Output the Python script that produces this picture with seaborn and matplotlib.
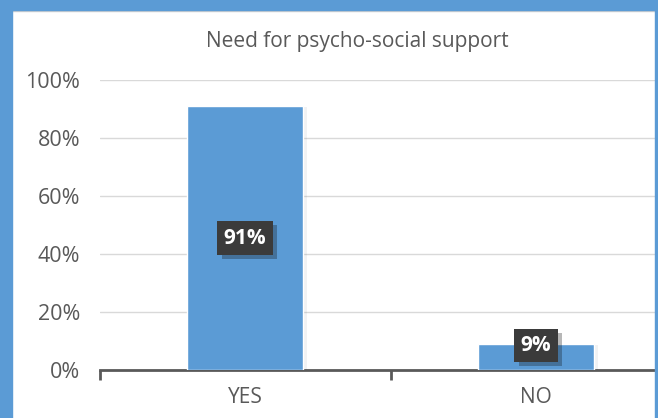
import matplotlib
matplotlib.use("Agg")
import matplotlib.pyplot as plt
import matplotlib.patheffects as pe
from matplotlib.patches import Rectangle
from matplotlib.ticker import PercentFormatter, MultipleLocator
import seaborn as sns
import pandas as pd

# data
categories = ["YES", "NO"]
shares = [0.91, 0.09]
title = "Need for psycho-social support"

BLUE = "#5B9BD5"
GREY = "#595959"

sns.set_theme(style="white")
plt.rcParams["font.family"] = ["Open Sans", "DejaVu Sans"]

df = pd.DataFrame({"answer": categories, "share": shares})

fig = plt.figure(figsize=(6.58, 4.18), dpi=100)
ax = fig.add_axes([99.5 / 658, 48 / 418, 582 / 658, 290 / 418])

sns.barplot(data=df, x="answer", y="share", color=BLUE, saturation=1,
            width=0.4, ax=ax, zorder=3)
for bar in ax.patches:
    bar.set_path_effects([pe.SimplePatchShadow(offset=(3, -1), alpha=0.06), pe.Normal()])

ax.set_xlim(-0.5, 1.5)
ax.set_ylim(0, 1)
ax.yaxis.set_major_locator(MultipleLocator(0.2))
ax.yaxis.set_major_formatter(PercentFormatter(1.0, decimals=0))
ax.grid(axis="y", color="#D9D9D9", linewidth=1, zorder=0)
ax.set_axisbelow(True)
for s in ["top", "right", "left"]:
    ax.spines[s].set_visible(False)
ax.spines["bottom"].set_color(GREY)
ax.spines["bottom"].set_linewidth(2)
ax.set_xlabel("")
ax.set_ylabel("")
ax.tick_params(axis="y", length=0, labelsize=15.5, labelcolor=GREY, pad=14)
ax.tick_params(axis="x", length=0, labelsize=15, labelcolor=GREY, pad=12)
# category boundary ticks
ax.set_xticks([-0.5, 0.5, 1.5], minor=True)
ax.tick_params(axis="x", which="minor", bottom=True, length=7, width=2,
               color=GREY, direction="out")

# data labels in dark boxes
for i, v in enumerate(shares):
    ax.text(i, max(v / 2, 0.085), f"{v:.0%}", ha="center", va="center",
            color="white", fontsize=15, fontweight="bold", zorder=5,
            bbox=dict(boxstyle="square,pad=0.3", facecolor="#3B3B3B",
                      edgecolor="none",
                      path_effects=[pe.SimplePatchShadow(offset=(3, -3), alpha=0.3),
                                    pe.Normal()]))

fig.text(357 / 658, 1 - 42 / 418, title, ha="center", va="center",
         fontsize=15, color=GREY)

# blue frame around the chart
frame = dict(color=BLUE, transform=fig.transFigure, zorder=10)
fig.patches.extend([
    Rectangle((0, 0), 12 / 658, 1, **frame),
    Rectangle((0, 1 - 10 / 418), 1, 10 / 418, **frame),
    Rectangle((1 - 3 / 658, 0), 3 / 658, 1, **frame),
])
fig.add_artist(plt.Line2D([12 / 658, 1 - 3 / 658], [1 - 11 / 418] * 2,
                          transform=fig.transFigure, color="#D0D0D0", lw=1, zorder=9))

fig.savefig("out.png", dpi=100)
